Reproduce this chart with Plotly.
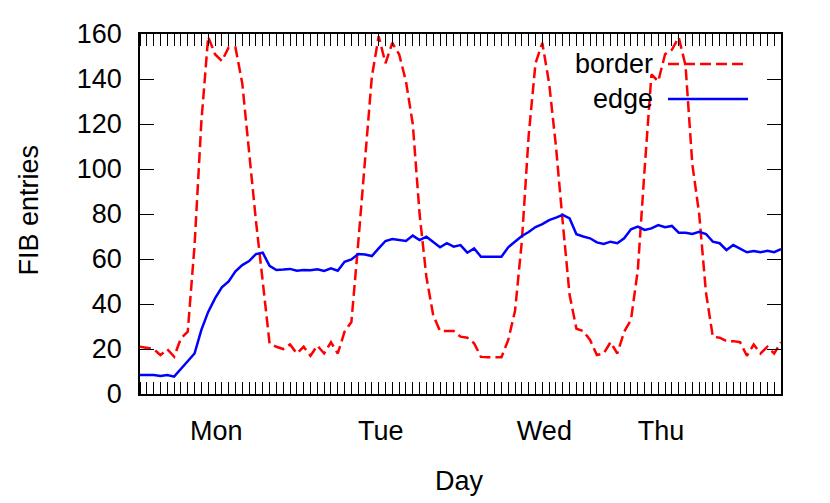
import plotly.graph_objects as go

# hourly samples, one per minor tick
hours = list(range(95))

border = [21, 20.5, 20, 17.3, 19.9, 16.6, 24.7, 27.7, 66, 121,
          158.8, 151, 148, 154, 154, 138, 107, 77, 50, 22.5,
          21, 20, 22, 18, 21, 17, 21.5, 18, 23, 18,
          27.7, 32, 67, 104, 141, 159, 147, 156, 151, 139,
          120, 80, 52, 35, 28, 28, 28, 25.5, 25, 22.5,
          16.5, 16.3, 16.3, 16.3, 24, 37, 68, 115, 147, 156,
          138, 110, 76, 44, 29, 28, 24, 17.3, 18, 23,
          18, 27.7, 33, 55, 100, 142, 139, 151, 153, 158.5,
          146, 102, 80, 45, 25.5, 25, 23.5, 23.5, 23, 17,
          22, 18, 21, 18, 23]

edge = [8.4, 8.4, 8.4, 8.0, 8.4, 7.7, 11, 14.5, 18, 28.5,
        36.5, 42.5, 47.4, 50, 54.5, 57.3, 59.1, 62.2, 62.8, 57,
        55.1, 55.3, 55.6, 54.8, 55.1, 55, 55.4, 54.7, 55.9, 54.8,
        58.8, 59.8, 62.2, 62, 61.3, 64.7, 68, 68.9, 68.6, 68,
        70.4, 68.4, 69.9, 67.7, 65.2, 67, 65.5, 66.2, 62.8, 64.7,
        61, 61, 61, 61, 65.2, 67.7, 70.2, 72, 74.2, 75.5,
        77.3, 78.4, 79.6, 78, 71, 70, 69.2, 67.4, 66.7, 67.7,
        67, 69.2, 73.2, 74.4, 72.9, 73.6, 75.1, 74.1, 74.7, 71.7,
        71.7, 71.1, 72.1, 71.1, 67.7, 67, 64, 66.2, 64.7, 63,
        63.6, 63, 63.7, 63, 64.4]

day_pos = [11.2, 35.3, 59.3, 76.4]
day_labels = ["Mon", "Tue", "Wed", "Thu"]
y_ticks = [0, 20, 40, 60, 80, 100, 120, 140, 160]

FONT = "Liberation Sans, Arial, sans-serif"
DASH = "11px,5px"

fig = go.Figure()
fig.add_trace(go.Scatter(x=hours, y=border, mode="lines", name="border",
                         line=dict(color="#ff0000", width=2.5, dash=DASH)))
fig.add_trace(go.Scatter(x=hours, y=edge, mode="lines", name="edge",
                         line=dict(color="#0000ff", width=2.5)))

fig.update_xaxes(
    range=[0, 94], tickvals=day_pos, ticktext=day_labels, ticks="",
    minor=dict(dtick=1, tick0=0, ticks="inside", ticklen=12, tickcolor="black", tickwidth=1.2),
    showgrid=False, zeroline=False, showline=True, linecolor="black", linewidth=1.5,
    mirror="ticks", ticklabelstandoff=12,
)
fig.update_yaxes(
    range=[0, 160], tickvals=y_ticks, ticks="inside", ticklen=14, tickcolor="black", tickwidth=1.2,
    showgrid=False, zeroline=False, showline=True, linecolor="black", linewidth=1.5,
    mirror="ticks", ticklabelstandoff=11,
)

# gnuplot style key: label on the left, sample line on the right
legend_rows = [("border", "#ff0000", DASH, 0.9167), ("edge", "#0000ff", "solid", 0.8194)]
for name, color, dash, yp in legend_rows:
    fig.add_annotation(text=name, xref="paper", yref="paper", x=0.8034, y=yp,
                       xanchor="right", yanchor="middle", showarrow=False)
    fig.add_shape(type="line", xref="paper", yref="paper", x0=0.8237, x1=0.9485, y0=yp, y1=yp,
                  line=dict(color=color, width=2.5, dash=dash))

fig.add_annotation(text="FIB entries", xref="paper", yref="paper", x=-0.173, y=0.51,
                   textangle=-90, showarrow=False, xanchor="center", yanchor="middle")
fig.add_annotation(text="Day", xref="paper", yref="paper", x=0.499, y=-0.242,
                   showarrow=False, xanchor="center", yanchor="middle")

# page body has an 8px margin, so the figure is shrunk and shifted to keep the plot box in place
fig.update_layout(
    width=822, height=495,
    margin=dict(l=132, r=49, t=26, b=109),
    plot_bgcolor="white", paper_bgcolor="white",
    font=dict(family=FONT, size=27, color="black"),
    showlegend=False,
)

fig.write_html("out.html")
